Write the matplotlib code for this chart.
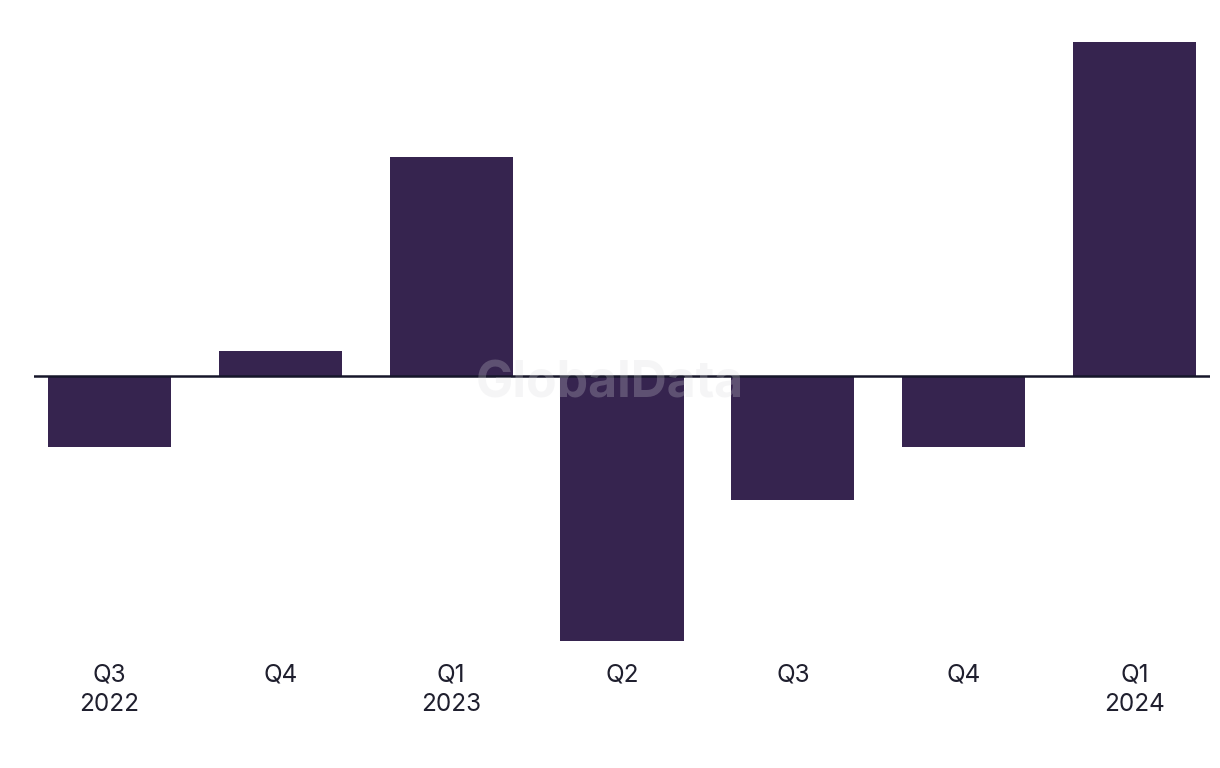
import matplotlib
matplotlib.use("Agg")
import matplotlib.pyplot as plt

quarters = ["Q3\n2022", "Q4", "Q1\n2023", "Q2", "Q3", "Q4", "Q1\n2024"]
values = [-71, 25, 219, -265, -124, -71, 334]

plt.rcParams['font.family'] = ['Inter', 'DejaVu Sans']

W, H = 1220, 768
fig = plt.figure(figsize=(W / 100, H / 100), dpi=100)
left, right = 34, 1210
top_px, bot_px = 42, 641
ax = fig.add_axes([left / W, 1 - bot_px / H, (right - left) / W, (bot_px - top_px) / H])

x = list(range(len(quarters)))
ax.bar(x, values, width=0.72, color="#36244f", zorder=2)
ax.axhline(0, color="#16162a", linewidth=1.8, zorder=3)

ax.set_xlim(-0.44, len(quarters) - 1 + 0.44)
ax.set_ylim(min(values), max(values))
ax.set_yticks([])
ax.set_xticks(x)
ax.set_xticklabels(quarters, fontsize=17.5, color="#1f1f2e", linespacing=1.38)
ax.tick_params(axis="x", length=0, pad=16)
for s in ax.spines.values():
    s.set_visible(False)

fig.text(610 / W, 1 - 384 / H, "GlobalData", ha="center", va="center",
         fontsize=36, fontweight="bold", color="#d9d9dd", alpha=0.25, zorder=10)

fig.savefig("out.png", dpi=100)
